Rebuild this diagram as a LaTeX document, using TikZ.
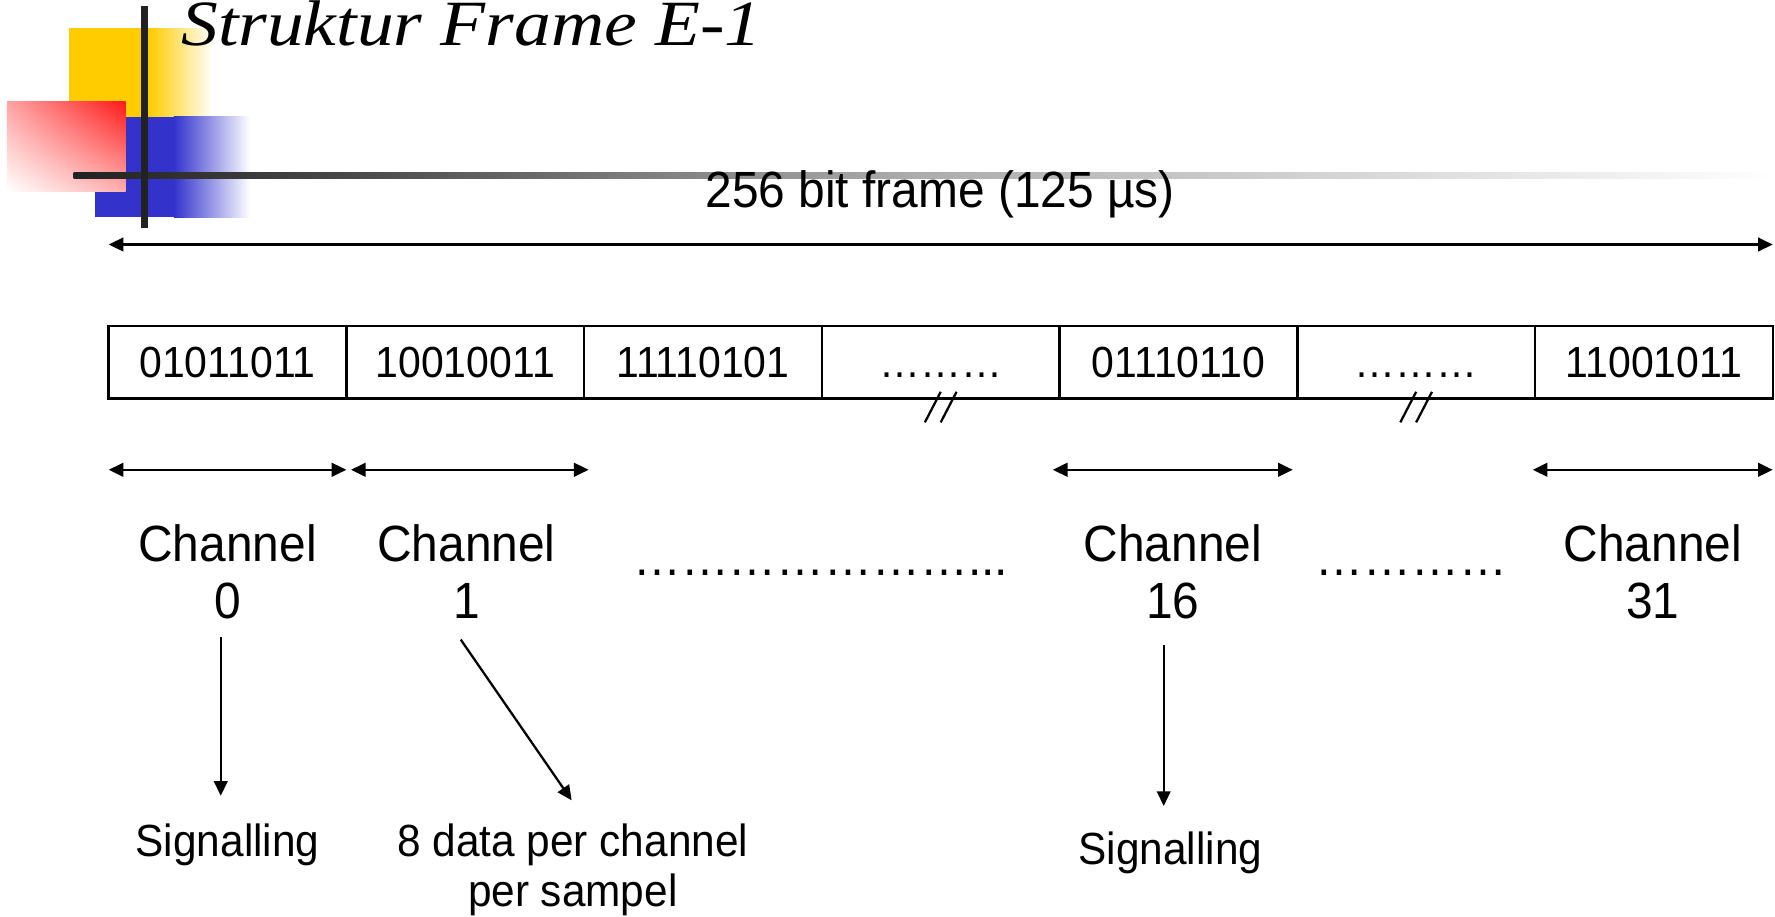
\documentclass[tikz,border=0pt]{standalone}
\usepackage{fontspec}
\setmainfont{Liberation Sans}[FakeStretch=0.94]
\newfontfamily\titlefont{Liberation Serif}[FakeStretch=1.14]
\usetikzlibrary{arrows.meta,calc,shadings}

\definecolor{logoyellow}{HTML}{FFCC00}
\definecolor{logoblue}{HTML}{3333CC}
\definecolor{logored}{HTML}{FF1A1A}
\definecolor{bardark}{HTML}{222222}

% one ellipsis glyph
\newcommand{\tridot}{…}

\begin{document}
\begin{tikzpicture}[x=1pt,y=-1pt,
  cell/.style={draw, line width=2.2pt, minimum width=210pt, minimum height=64pt,
    inner sep=0pt, text height=27pt, text depth=0pt,
    font=\fontsize{38.5}{40}\selectfont},
  span/.style={line width=2.2pt,
    {Triangle[length=13pt,width=12pt]}-{Triangle[length=13pt,width=12pt]}},
  pointer/.style={line width=2pt, -{Triangle[length=13pt,width=12pt]}},
  chlabel/.style={align=center, inner sep=0pt, font=\fontsize{45}{50}\selectfont},
  note/.style={align=center, inner sep=0pt, font=\fontsize{39.8}{44}\selectfont},
  dotrow/.style={inner sep=0pt, anchor=base, font=\fontsize{45}{50}\selectfont},
  brk/.style={line width=2pt}]

\useasboundingbox (0,0) rectangle (1568,810);

% corner logo: three coloured squares and a cross of bars
\fill[logoyellow] (61,25) rectangle (132,110);
\shade[left color=logoyellow, right color=white] (131.5,25) rectangle (188,110);
\fill[logoblue] (84,103) rectangle (154,192);
\shade[left color=logoblue, right color=white] (153.5,103) rectangle (221,192);
\shade[upper left=logored!40, upper right=logored, lower left=white,
  lower right=logored!35] (6,90) rectangle (111,169);
\shade[left color=bardark, right color=black!72] (65,152) rectangle (300,158);
\shade[left color=black!72, right color=black!33] (299.5,152) rectangle (800,158);
\shade[left color=black!33, right color=white] (799.5,152) rectangle (1568,158);
\fill[bardark] (124.5,5) rectangle (130.5,201);

% title
\node[anchor=base west, inner sep=0pt,
  font=\titlefont\itshape\fontsize{57}{62}\selectfont] (title) at (160,40)
  {Struktur Frame E-1};

% whole frame length
\node[anchor=base, inner sep=0pt, font=\fontsize{45}{50}\selectfont] (hdr)
  at (830.5,183) {256 bit frame (125 µs)};
\coordinate (fl) at (96,216);
\coordinate (fr) at (1566,216);
\draw[span] (fl) -- (fr);

% the time slots
\node[cell] (c1) at (201,320) {01011011};
\node[cell] (c2) at (411,320) {10010011};
\node[cell] (c3) at (621,320) {11110101};
\node[cell] (c4) at (831,320) {\tridot\tridot\tridot};
\node[cell] (c5) at (1041,320) {01110110};
\node[cell] (c6) at (1251,320) {\tridot\tridot\tridot};
\node[cell] (c7) at (1461,320) {11001011};

% break marks under the elided slots
\foreach \c in {c4,c6} {
  \draw[brk] ($(\c.south)+(0,-7)$) -- ($(\c.south)+(-14,20)$);
  \draw[brk] ($(\c.south)+(14,-7)$) -- ($(\c.south)+(0,20)$);
}

% slot widths
\coordinate (w0a) at (96,415);   \coordinate (w0b) at (306,415);
\coordinate (w1a) at (310,415);  \coordinate (w1b) at (520,415);
\coordinate (w16a) at (930,415); \coordinate (w16b) at (1142,415);
\coordinate (w31a) at (1354,415);\coordinate (w31b) at (1566,415);
\draw[span] (w0a) -- (w0b);
\draw[span] (w1a) -- (w1b);
\draw[span] (w16a) -- (w16b);
\draw[span] (w31a) -- (w31b);

% channel names
\node[chlabel] (ch0) at (201,505) {Channel\\0};
\node[chlabel] (ch1) at (412,505) {Channel\\1};
\node[chlabel] (ch16) at (1036,505) {Channel\\16};
\node[chlabel] (ch31) at (1460,505) {Channel\\31};
\node[dotrow] (gap1) at (725,508)
  {\tridot\tridot\tridot\tridot\tridot\tridot\tridot...};
\node[dotrow] (gap2) at (1247,508) {\tridot\tridot\tridot\tridot};

% what the channels carry
\node[note, anchor=base] (sig0) at (201,757) {Signalling};
\node[note] (data) at (506,768.7) {8 data per channel\\per sampel};
\node[note, anchor=base] (sig16) at (1034,764) {Signalling};

\coordinate (s0) at (195,563);   \coordinate (e0) at (195,703);
\coordinate (s1) at (407,565);   \coordinate (e1) at (505,707);
\coordinate (s16) at (1028,570); \coordinate (e16) at (1028,712);
\draw[pointer] (s0) -- (e0);
\draw[pointer] (s1) -- (e1);
\draw[pointer] (s16) -- (e16);

\end{tikzpicture}
\end{document}
